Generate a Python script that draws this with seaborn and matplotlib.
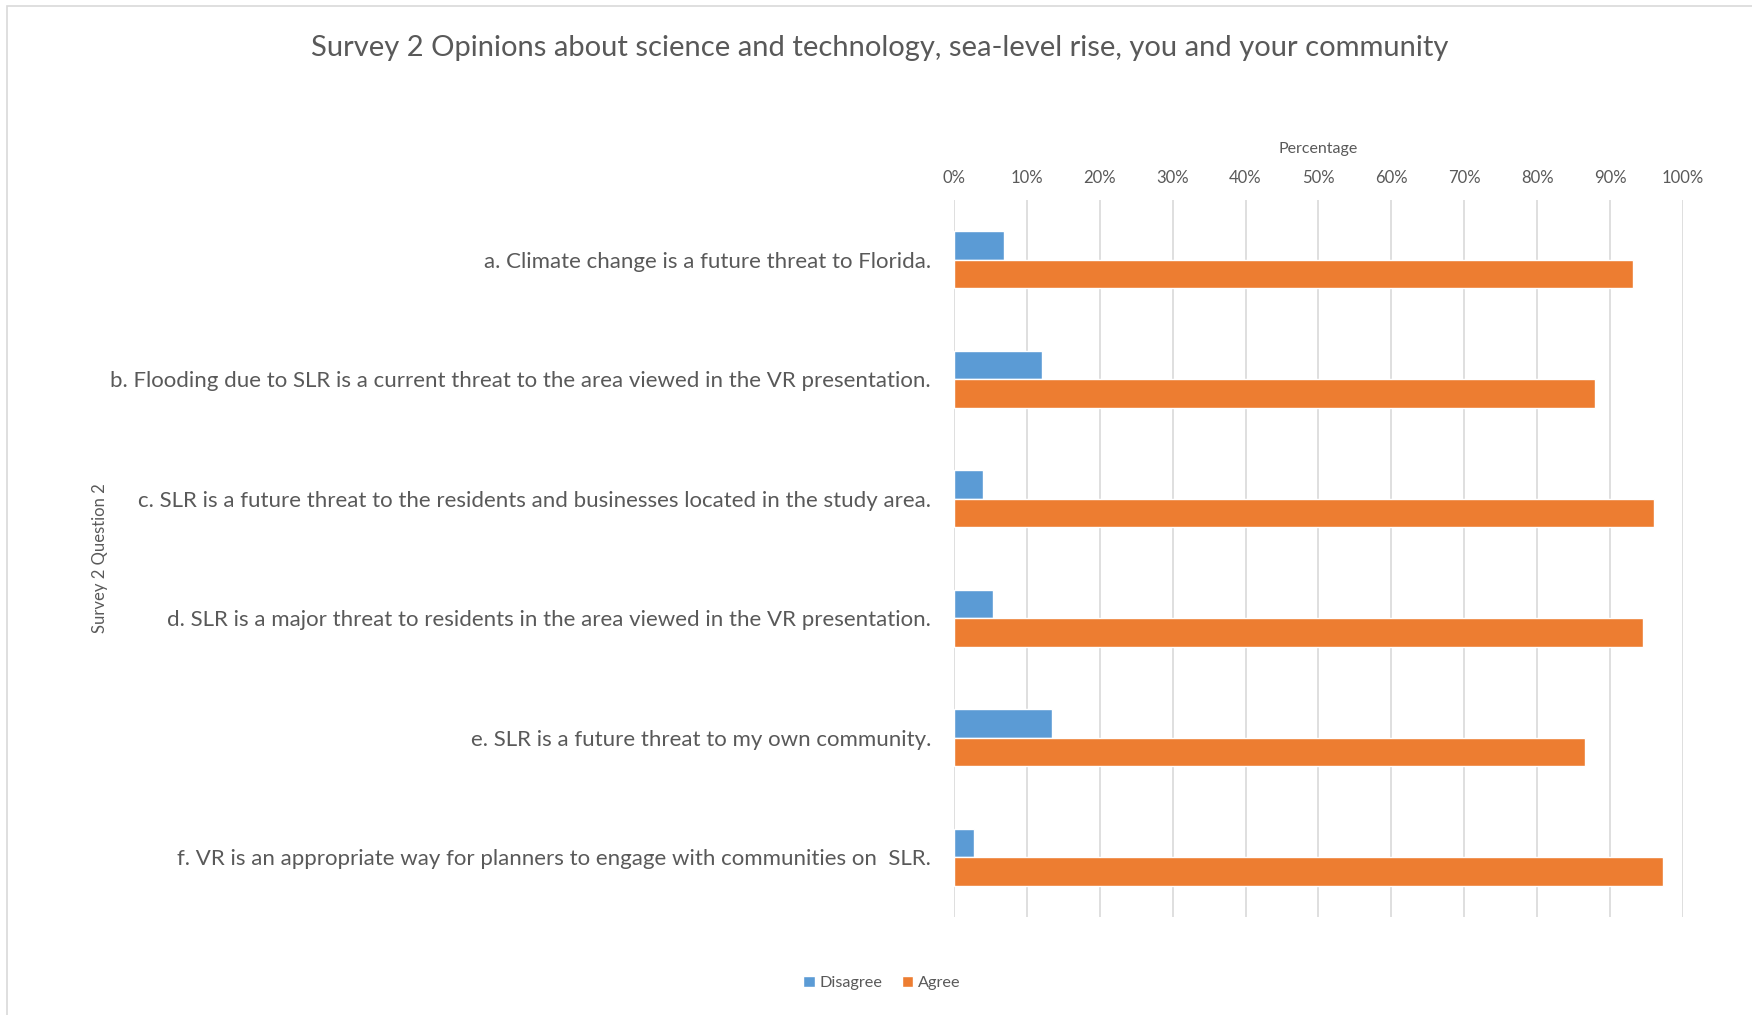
import numpy as np
import pandas as pd
import matplotlib.pyplot as plt
import seaborn as sns
from matplotlib.ticker import PercentFormatter
from matplotlib.patches import Rectangle

# data
questions = [
    "a. Climate change is a future threat to Florida.",
    "b. Flooding due to SLR is a current threat to the area viewed in the VR presentation.",
    "c. SLR is a future threat to the residents and businesses located in the study area.",
    "d. SLR is a major threat to residents in the area viewed in the VR presentation.",
    "e. SLR is a future threat to my own community.",
    "f. VR is an appropriate way for planners to engage with communities on  SLR.",
]
disagree = [0.069, 0.121, 0.040, 0.054, 0.135, 0.028]
agree = [0.931, 0.879, 0.960, 0.945, 0.865, 0.972]

df = pd.DataFrame({
    "Question": questions * 2,
    "Response": ["Disagree"] * 6 + ["Agree"] * 6,
    "Share": disagree + agree,
})

sns.set_style("white")
plt.rcParams["font.family"] = ["Lato", "DejaVu Sans"]
text_col = "#595959"

fig = plt.figure(figsize=(17.52, 10.15), dpi=100)
ax = fig.add_axes([0.5445, 0.0966, 0.9606 - 0.5445, 0.803 - 0.0966])

sns.barplot(data=df, y="Question", x="Share", hue="Response", orient="h",
            palette=["#5B9BD5", "#ED7D31"], width=0.48, ax=ax,
            saturation=1, legend=True)

ax.set_xlim(0, 1.0)
ax.set_xticks(np.arange(0, 1.01, 0.1))
ax.xaxis.set_major_formatter(PercentFormatter(1.0, decimals=0))
ax.xaxis.tick_top()
ax.xaxis.set_label_position("top")
ax.set_xlabel("Percentage", fontsize=11.5, color=text_col, labelpad=12.5)
ax.set_ylabel("Survey 2 Question 2", fontsize=12, color=text_col, labelpad=0)
ax.yaxis.set_label_coords(-1.16, 0.5)
ax.tick_params(axis="x", length=0, labelsize=12, labelcolor=text_col, pad=10)
ax.tick_params(axis="y", length=0, labelsize=16, labelcolor=text_col, pad=16.5)
ax.grid(axis="x", color="#D9D9D9", linewidth=1.2)
ax.set_axisbelow(True)
for s in ax.spines.values():
    s.set_visible(False)

leg = ax.legend(loc="center", bbox_to_anchor=(0.5035, 0.0315),
                bbox_transform=fig.transFigure, ncol=2, frameon=False,
                fontsize=11.7, handlelength=0.7, handleheight=0.7,
                handletextpad=0.3, columnspacing=1.2)
for t in leg.get_texts():
    t.set_color(text_col)

fig.text(0.502, 0.953, "Survey 2 Opinions about science and technology, sea-level rise, you and your community",
         ha="center", va="center", fontsize=21, color=text_col)

fig.patches.append(Rectangle((0.004, -0.01), 1.1, 1.004, transform=fig.transFigure,
                             fill=False, edgecolor="#D9D9D9", linewidth=1.2))

fig.savefig("out.png", dpi=100, facecolor="white")
